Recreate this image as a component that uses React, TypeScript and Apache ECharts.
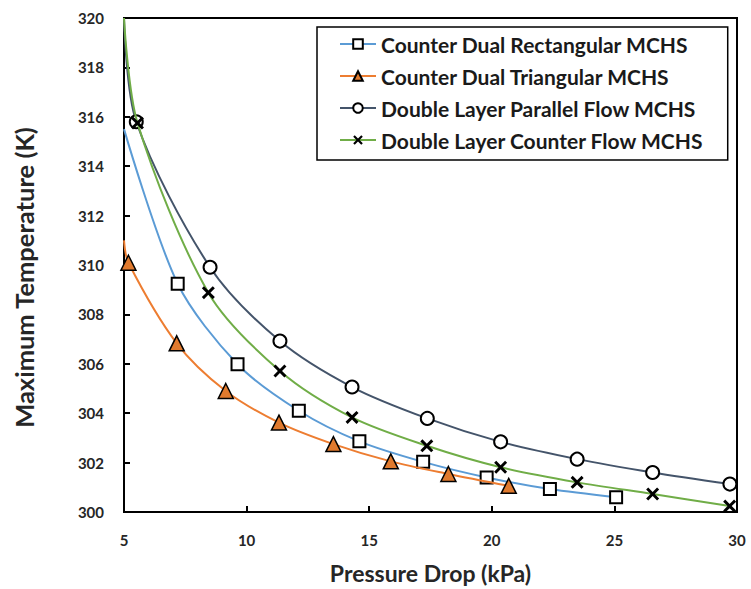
import React, { useEffect, useRef } from "react";
import * as echarts from "echarts";

const seriesNames = [
  "Counter Dual Rectangular MCHS",
  "Counter Dual Triangular MCHS",
  "Double Layer Parallel Flow MCHS",
  "Double Layer Counter Flow MCHS",
];

const rectX = [5, 7.19, 9.63, 12.13, 14.6, 17.2, 19.79, 22.37, 25.07];
const rectY = [315.5, 309.24, 305.98, 304.1, 302.86, 302.03, 301.4, 300.93, 300.6];

const triX = [5, 5.18, 7.15, 9.15, 11.32, 13.54, 15.88, 18.23, 20.69];
const triY = [311.0, 310.09, 306.83, 304.9, 303.62, 302.75, 302.05, 301.54, 301.06];

const parX = [5, 5.5, 8.51, 11.36, 14.3, 17.37, 20.36, 23.48, 26.56, 29.71];
const parY = [320, 315.8, 309.91, 306.92, 305.06, 303.79, 302.84, 302.14, 301.6, 301.13];

const cntX = [5, 5.55, 8.44, 11.36, 14.3, 17.35, 20.36, 23.48, 26.56, 29.7];
const cntY = [320, 315.75, 308.88, 305.71, 303.83, 302.68, 301.81, 301.2, 300.73, 300.24];

// first point of each list is where the curve enters the plot (no marker)
const hiddenFirst = [true, true, true, true];

const xTicks = [5, 10, 15, 20, 25, 30];
const yTicks = [300, 302, 304, 306, 308, 310, 312, 314, 316, 318, 320];

const FONT = "Lato, 'Open Sans', sans-serif";
const X_SYMBOL =
  "path://M0,1.6 L1.6,0 L5,3.4 L8.4,0 L10,1.6 L6.6,5 L10,8.4 L8.4,10 L5,6.6 L1.6,10 L0,8.4 L3.4,5 Z";

function toData(xs: number[], ys: number[], hide: boolean) {
  return xs.map((x, i) =>
    i === 0 && hide ? { value: [x, ys[i]], symbol: "none" } : [x, ys[i]]
  );
}

export default function App() {
  const ref = useRef<HTMLDivElement>(null);
  useEffect(() => {
    document.body.style.margin = "0";
    const chart = echarts.init(ref.current!, null, { renderer: "svg" });
    const lineW = 2;
    chart.setOption({
      animation: false,
      backgroundColor: "#ffffff",
      grid: {
        left: 124,
        top: 18,
        right: 14,
        bottom: 76,
        show: true,
        borderColor: "#000",
        borderWidth: 2,
        backgroundColor: "transparent",
      },
      legend: {
        orient: "vertical",
        left: 317,
        top: 27,
        data: seriesNames,
        backgroundColor: "#fff",
        borderColor: "#000",
        borderWidth: 1.5,
        borderRadius: 0,
        padding: [6, 24, 9, 22],
        itemWidth: 36,
        itemHeight: 12,
        itemGap: 10,
        textStyle: {
          fontFamily: FONT,
          fontSize: 21,
          fontWeight: "bold",
          color: "#1a1a1a",
          lineHeight: 22,
        },
      },
      xAxis: {
        type: "value",
        min: xTicks[0],
        max: xTicks[xTicks.length - 1],
        interval: 5,
        name: "Pressure Drop (kPa)",
        nameLocation: "middle",
        nameGap: 49,
        nameTextStyle: {
          fontFamily: FONT,
          fontSize: 23,
          fontWeight: "bold",
          color: "#262626",
        },
        axisLine: { show: true, lineStyle: { color: "#000", width: 2 } },
        axisTick: { show: true, inside: true, length: 6, lineStyle: { color: "#000", width: 2 } },
        axisLabel: {
          margin: 20,
          fontFamily: FONT,
          fontSize: 15,
          fontWeight: "bold",
          color: "#262626",
        },
        splitLine: { show: false },
      },
      yAxis: {
        type: "value",
        min: yTicks[0],
        max: yTicks[yTicks.length - 1],
        interval: 2,
        name: "Maximum Temperature (K)",
        nameLocation: "middle",
        nameGap: 87,
        nameTextStyle: {
          fontFamily: FONT,
          fontSize: 25.5,
          fontWeight: "bold",
          color: "#262626",
          padding: [0, 25, 0, 0],
        },
        axisLine: { show: true, lineStyle: { color: "#000", width: 2 } },
        axisTick: { show: true, inside: true, length: 6, lineStyle: { color: "#000", width: 2 } },
        axisLabel: {
          margin: 20,
          fontFamily: FONT,
          fontSize: 15,
          fontWeight: "bold",
          color: "#262626",
        },
        splitLine: { show: false },
      },
      series: [
        {
          name: seriesNames[0],
          type: "line",
          smooth: 0.3,
          data: toData(rectX, rectY, hiddenFirst[0]),
          symbol: "rect",
          symbolSize: 12,
          lineStyle: { color: "#5B9BD5", width: lineW },
          itemStyle: { color: "#fff", borderColor: "#000", borderWidth: 2 },
          z: 2,
        },
        {
          name: seriesNames[1],
          type: "line",
          smooth: 0.3,
          data: toData(triX, triY, hiddenFirst[1]),
          symbol: "triangle",
          symbolSize: 15,
          lineStyle: { color: "#ED7D31", width: lineW },
          itemStyle: { color: "#E07A2E", borderColor: "#000", borderWidth: 1.5 },
          z: 3,
        },
        {
          name: seriesNames[2],
          type: "line",
          smooth: 0.3,
          data: toData(parX, parY, hiddenFirst[2]),
          symbol: "circle",
          symbolSize: 13,
          lineStyle: { color: "#44546A", width: lineW },
          itemStyle: { color: "#fff", borderColor: "#000", borderWidth: 2 },
          z: 2,
        },
        {
          name: seriesNames[3],
          type: "line",
          smooth: 0.3,
          data: toData(cntX, cntY, hiddenFirst[3]),
          symbol: X_SYMBOL,
          symbolSize: 13,
          lineStyle: { color: "#70AD47", width: lineW },
          itemStyle: { color: "#000", borderWidth: 0 },
          z: 4,
        },
      ],
    });
    return () => chart.dispose();
  }, []);
  return <div ref={ref} style={{ width: 751, height: 589 }} />;
}
